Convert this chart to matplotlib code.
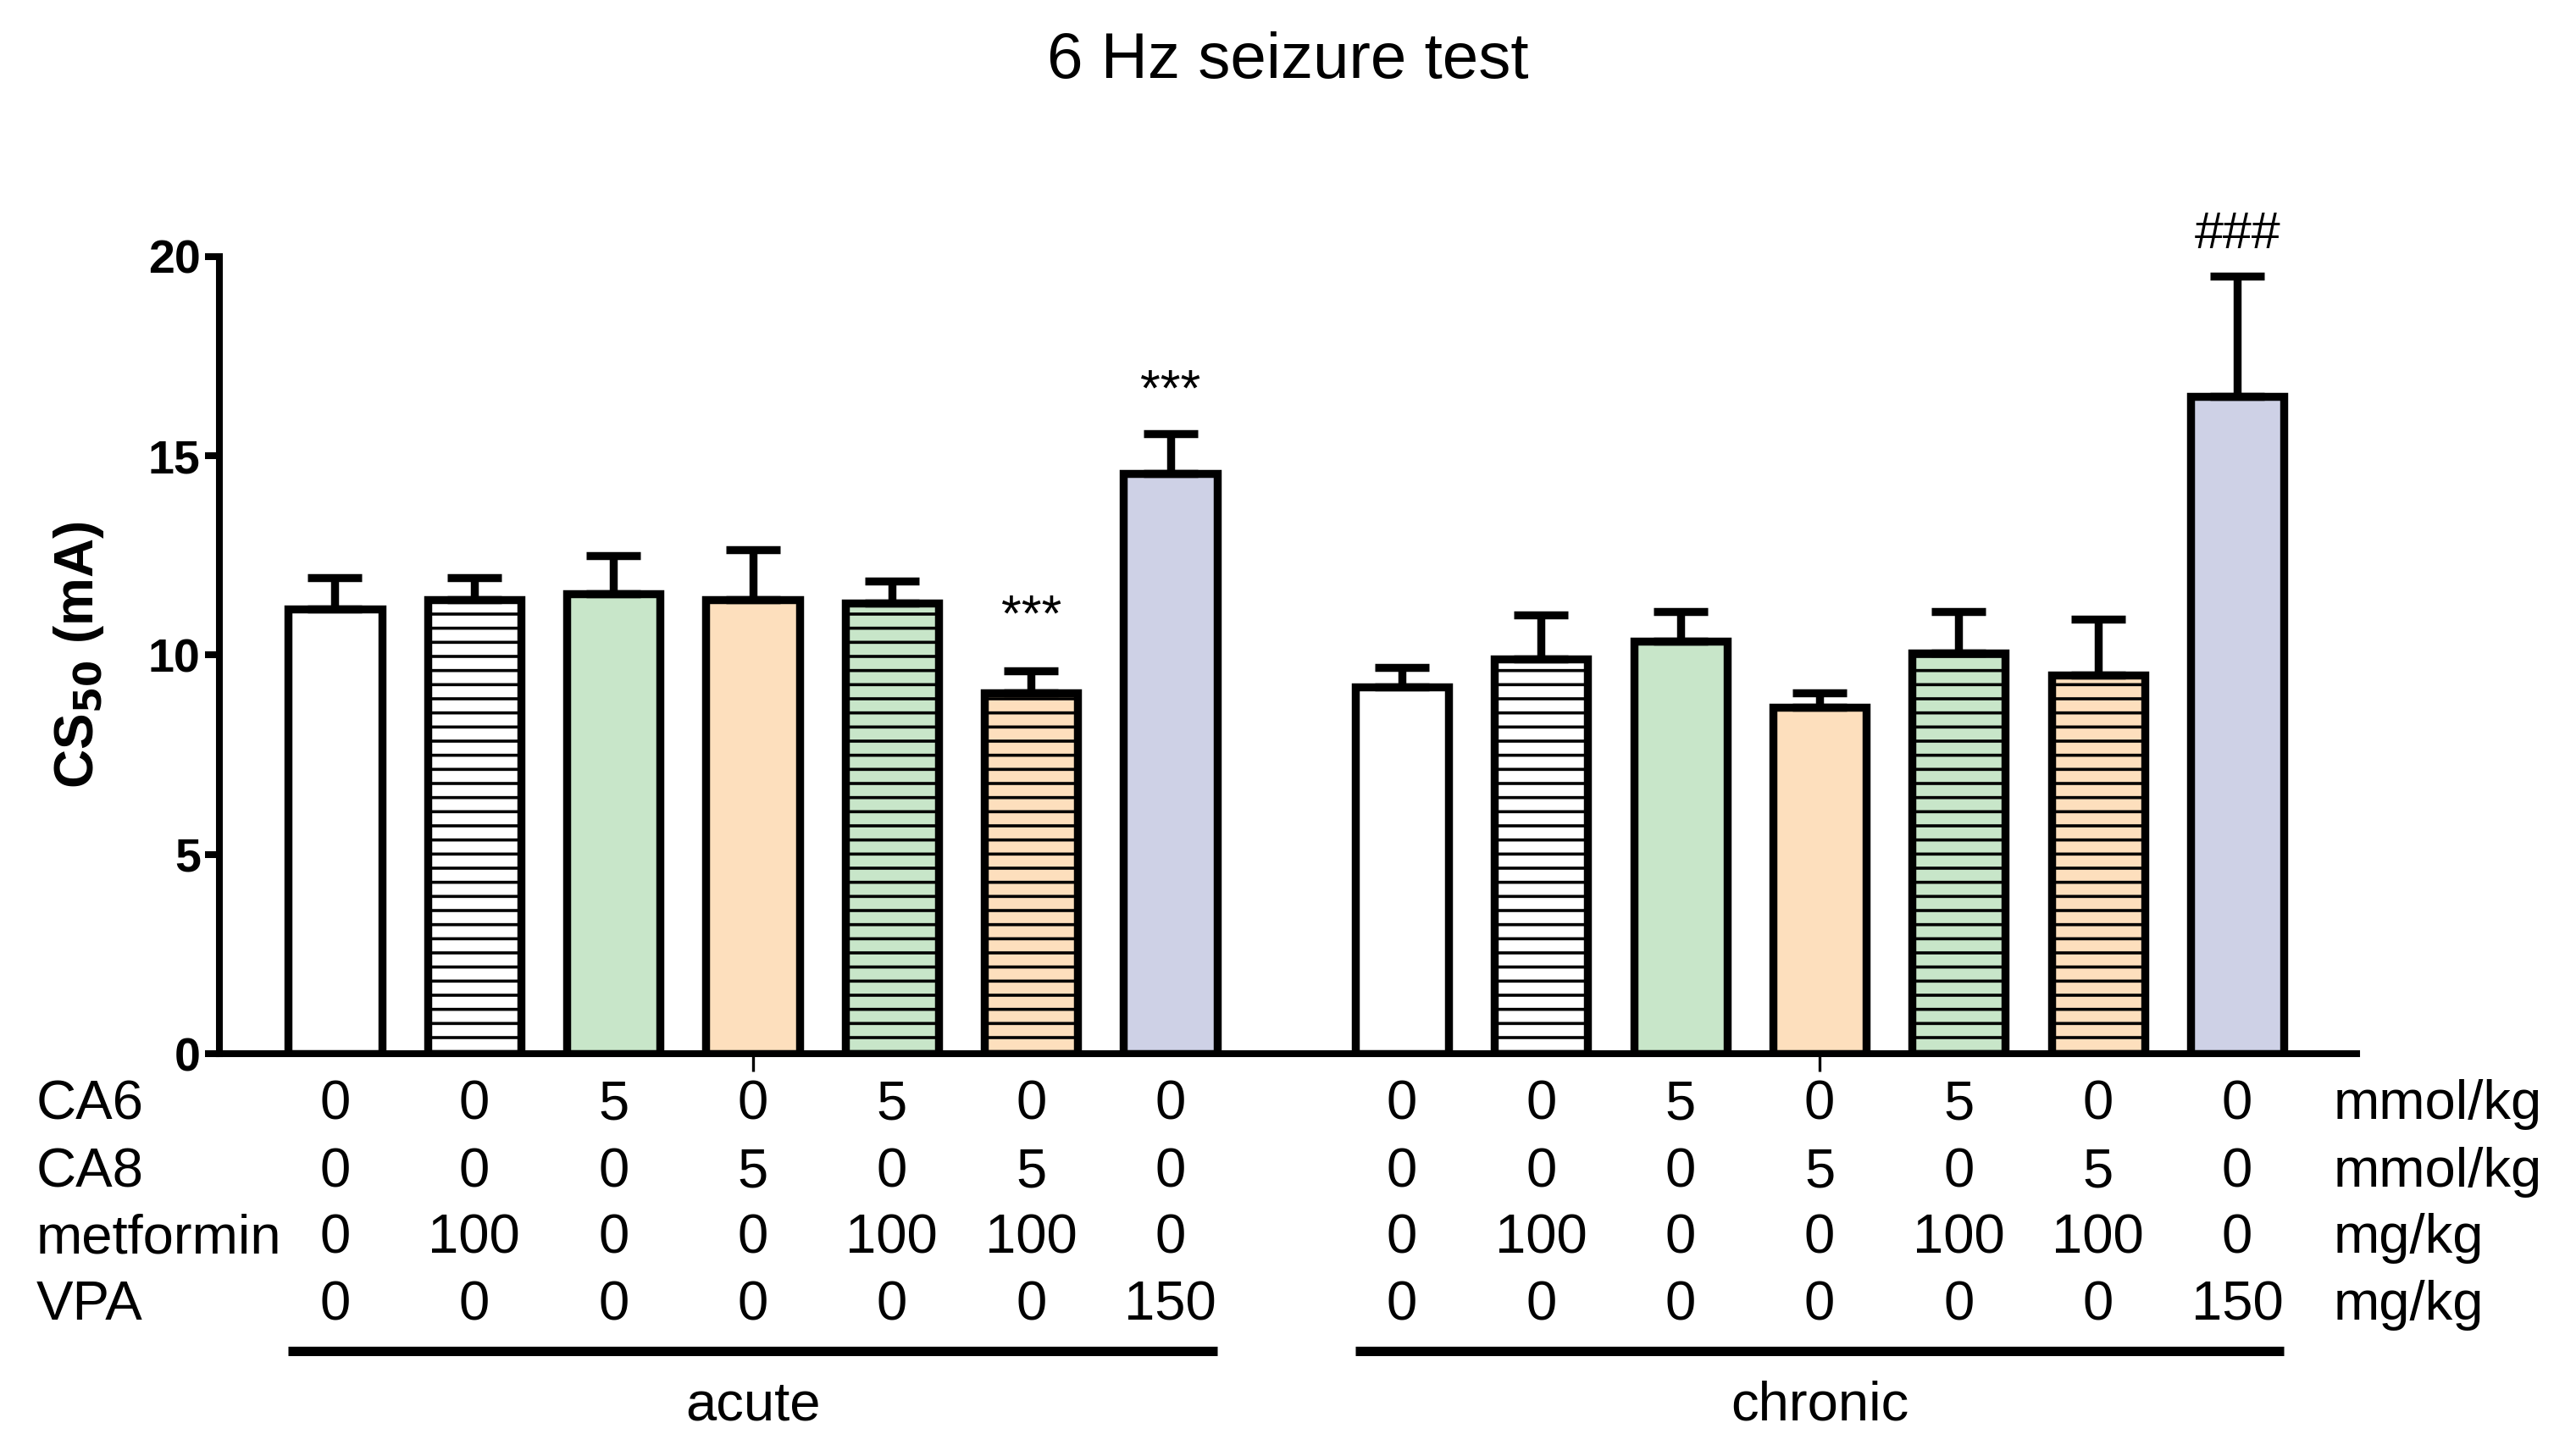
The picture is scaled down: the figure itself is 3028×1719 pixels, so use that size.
import numpy as np
import matplotlib
matplotlib.use("Agg")
import matplotlib.pyplot as plt

# data
groups = ["acute", "chronic"]
cs50_acute = [11.15, 11.4, 11.55, 11.4, 11.3, 9.05, 14.55]
sem_acute = [0.8, 0.55, 0.95, 1.25, 0.55, 0.55, 1.0]
cs50_chronic = [9.2, 9.9, 10.35, 8.7, 10.05, 9.5, 16.5]
sem_chronic = [0.5, 1.1, 0.75, 0.35, 1.05, 1.4, 3.0]
sig_acute = ["", "", "", "", "", "***", "***"]
sig_chronic = ["", "", "", "", "", "", "###"]
sig_pad_acute = [0, 0, 0, 0, 0, 0.74, 0.45]
sig_pad_chronic = [0, 0, 0, 0, 0, 0, 0.43]

row_names = ["CA6", "CA8", "metformin", "VPA"]
row_units = ["mmol/kg", "mmol/kg", "mg/kg", "mg/kg"]
ca6 = ["0", "0", "5", "0", "5", "0", "0"]
ca8 = ["0", "0", "0", "5", "0", "5", "0"]
metformin = ["0", "100", "0", "0", "100", "100", "0"]
vpa = ["0", "0", "0", "0", "0", "0", "150"]

colors = ["white", "white", "#c8e6c9", "#fddfbd", "#c8e6c9", "#fddfbd", "#ced1e6"]
hatches = [None, "--", None, None, "--", "--", None]

plt.rcParams['font.family'] = ['Liberation Sans', 'DejaVu Sans']
plt.rcParams['hatch.linewidth'] = 1.3

fig = plt.figure(figsize=(15.14, 8.595), dpi=200)
ax = fig.add_axes([0.0855, 0.2763, 0.8333, 0.5475])

gap = 7.664
x_acute = np.arange(7)
x_chronic = np.arange(7) + gap
width = 0.67
lw = 3.4

for xs, vals, errs, sigs, pads in [(x_acute, cs50_acute, sem_acute, sig_acute, sig_pad_acute),
                                   (x_chronic, cs50_chronic, sem_chronic, sig_chronic, sig_pad_chronic)]:
    ax.bar(xs, vals, width=width, color=colors, edgecolor="black",
           linewidth=lw, hatch=hatches, zorder=2)
    ax.errorbar(xs, vals, yerr=[np.zeros(7), errs], fmt="none", ecolor="black",
                elinewidth=lw, capsize=11.5, capthick=lw, zorder=3)
    for x, v, e, s, p in zip(xs, vals, errs, sigs, pads):
        if s:
            ax.text(x, v + e + p, s, ha="center", va="bottom", fontsize=22,
                    clip_on=False)

ax.set_xlim(-0.831, gap + 6 + 0.858)
ax.set_ylim(0, 20)
ax.set_yticks([0, 5, 10, 15, 20])
ax.set_yticklabels(["0", "5", "10", "15", "20"], fontweight="bold", fontsize=20)
ax.tick_params(axis="y", direction="out", length=6, width=2.9, pad=2)
ax.set_xticks([3, gap + 3])
ax.set_xticklabels(["", ""])
ax.tick_params(axis="x", direction="out", length=7.5, width=1.2)
for side in ["top", "right"]:
    ax.spines[side].set_visible(False)
ax.spines["left"].set_linewidth(2.9)
ax.spines["bottom"].set_linewidth(2.9)

ax.set_ylabel(r"CS$_\mathbf{50}$ (mA)", fontsize=23, fontweight="bold", labelpad=18)

# dosing table under the axis
trans = ax.get_xaxis_transform()
row_y = [-0.064, -0.149, -0.232, -0.316]
rows = [ca6, ca8, metformin, vpa]
for name, unit, vals, y in zip(row_names, row_units, rows, row_y):
    ax.text(-0.0856, y, name, transform=ax.transAxes, ha="left", va="center",
            fontsize=23.5)
    ax.text(0.989, y, unit, transform=ax.transAxes, ha="left", va="center",
            fontsize=23.5)
    for xs in [x_acute, x_chronic]:
        for x, v in zip(xs, vals):
            ax.text(x, y, v, transform=trans, ha="center", va="center",
                    fontsize=23.5)

for xs, name in zip([x_acute, x_chronic], groups):
    ax.plot([xs[0] - width / 2, xs[-1] + width / 2], [-0.373, -0.373],
            transform=trans, color="black", linewidth=4, clip_on=False,
            solid_capstyle="butt")
    ax.text(xs[3], -0.441, name, transform=trans, ha="center", va="center",
            fontsize=23.5)

fig.text(0.502, 0.958, "6 Hz seizure test", ha="center", va="center", fontsize=27.5)

fig.savefig("out.png", dpi=200)
